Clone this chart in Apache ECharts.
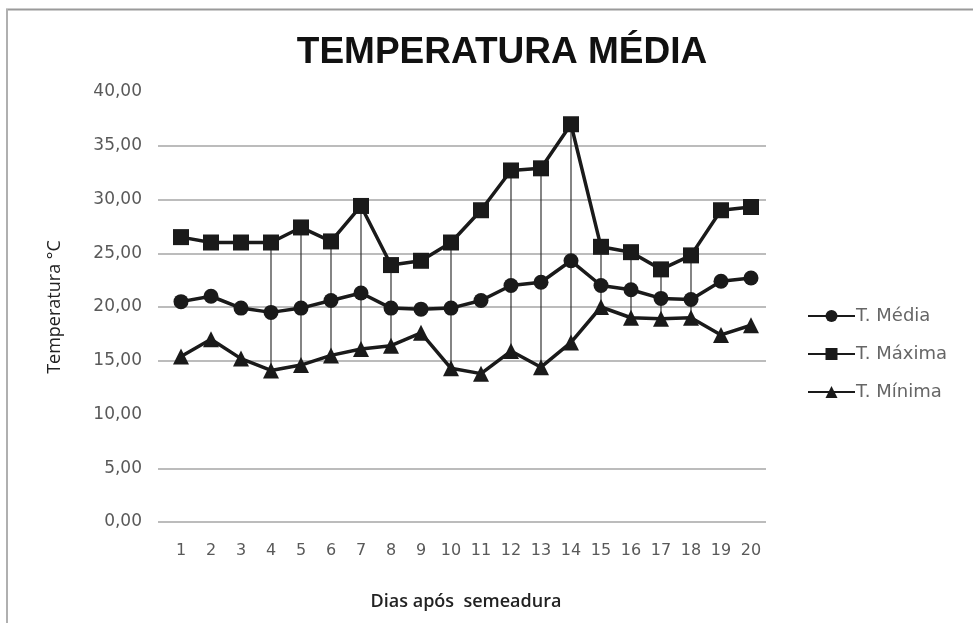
<!DOCTYPE html>
<html>
<head>
<meta charset="utf-8">
<script src="https://cdn.jsdelivr.net/npm/echarts@6/dist/echarts.min.js"></script>
<style>
html,body{margin:0;padding:0;background:#fff;}
#chart{width:973px;height:623px;}
</style>
</head>
<body>
<div id="chart"></div>
<script>
const days = ['1','2','3','4','5','6','7','8','9','10','11','12','13','14','15','16','17','18','19','20'];
const tMedia  = [20.5, 21.0, 19.9, 19.5, 19.9, 20.6, 21.3, 19.9, 19.8, 19.9, 20.6, 22.0, 22.3, 24.3, 22.0, 21.6, 20.8, 20.7, 22.4, 22.7];
const tMaxima = [26.5, 26.0, 26.0, 26.0, 27.4, 26.1, 29.4, 23.9, 24.3, 26.0, 29.0, 32.7, 32.9, 37.0, 25.6, 25.1, 23.5, 24.8, 29.0, 29.3];
const tMinima = [15.4, 17.0, 15.2, 14.1, 14.6, 15.5, 16.1, 16.4, 17.6, 14.3, 13.8, 15.9, 14.4, 16.7, 20.0, 19.0, 18.9, 19.0, 17.4, 18.3];
const highLowDays = ['4','5','6','7','8','10','12','13','14','15','16','17','18'];
const seriesNames = ['T. Média', 'T. Máxima', 'T. Mínima'];
const yTicks = ['0,00','5,00','10,00','15,00','20,00','25,00','30,00','35,00','40,00'];

const gridCol = '#a6a6a6';
const lineCol = '#1a1a1a';
const labelCol = '#595959';

const chart = echarts.init(document.getElementById('chart'));

const highLowData = highLowDays.map(d => {
  const i = days.indexOf(d);
  return [i, tMinima[i], tMaxima[i]];
});

chart.setOption({
  animation: false,
  backgroundColor: '#fff',
  title: {
    text: 'TEMPERATURA MÉDIA',
    left: 497, top: 29, textAlign: 'center',
    textStyle: { fontFamily: 'Liberation Sans', fontWeight: 'bold', fontSize: 37, color: '#111' }
  },
  graphic: [
    { type: 'line', shape: { x1: 6, y1: 9.5, x2: 973, y2: 9.5 }, style: { stroke: '#9a9a9a', lineWidth: 2 } },
    { type: 'line', shape: { x1: 7, y1: 9, x2: 7, y2: 623 }, style: { stroke: '#b0b0b0', lineWidth: 2 } }
  ],
  legend: {
    orient: 'vertical', left: 802, top: 302,
    itemWidth: 47, itemHeight: 15, itemGap: 20,
    data: seriesNames,
    textStyle: { fontFamily: 'DejaVu Sans', fontSize: 18, color: '#666', padding: [0,0,0,-4] }
  },
  grid: [
    { left: 158, top: 92, width: 608, height: 430 },
    { left: 166, top: 92, width: 600, height: 430 }
  ],
  xAxis: [
    { gridIndex: 0, type: 'category', data: days, show: false },
    {
      gridIndex: 1, type: 'category', data: days, boundaryGap: true,
      axisLine: { show: false },
      axisTick: { show: false },
      axisLabel: { fontFamily: 'DejaVu Sans', fontSize: 16, color: labelCol, margin: 21, interval: 0 },
      name: 'Dias após  semeadura', nameLocation: 'middle', nameGap: 71,
      nameTextStyle: { fontFamily: 'Open Sans', fontWeight: 600, fontSize: 18, color: '#222' }
    }
  ],
  yAxis: [
    {
      gridIndex: 0, type: 'value', min: 0, max: 40, interval: 5,
      axisLine: { show: false }, axisTick: { show: false }, axisLabel: { show: false },
      splitLine: { show: true, lineStyle: { width: 1.5, color: [gridCol, gridCol, 'rgba(0,0,0,0)', gridCol, gridCol, gridCol, gridCol, gridCol, 'rgba(0,0,0,0)'] } }
    },
    {
      gridIndex: 1, type: 'value', min: 0, max: 40, interval: 5,
      axisLine: { show: false }, axisTick: { show: false }, splitLine: { show: false },
      axisLabel: {
        fontFamily: 'DejaVu Sans', fontSize: 17, color: labelCol, margin: 24,
        formatter: (v) => yTicks[Math.round(v / 5)]
      },
      name: 'Temperatura °C', nameLocation: 'middle', nameGap: 102, nameRotate: 90,
      nameTextStyle: { fontFamily: 'Open Sans', fontSize: 18, color: '#222' }
    }
  ],
  series: [
    {
      type: 'custom', xAxisIndex: 1, yAxisIndex: 1, silent: true, z: 1,
      data: highLowData,
      renderItem: function (params, api) {
        const lo = api.coord([api.value(0), api.value(1)]);
        const hi = api.coord([api.value(0), api.value(2)]);
        return { type: 'line', shape: { x1: lo[0], y1: lo[1], x2: hi[0], y2: hi[1] }, style: { stroke: '#333', lineWidth: 1.2 } };
      }
    },
    {
      name: seriesNames[0], type: 'line', xAxisIndex: 1, yAxisIndex: 1, data: tMedia, z: 3,
      symbol: 'circle', symbolSize: 15,
      lineStyle: { color: lineCol, width: 3.5 }, itemStyle: { color: lineCol }
    },
    {
      name: seriesNames[1], type: 'line', xAxisIndex: 1, yAxisIndex: 1, data: tMaxima, z: 3,
      symbol: 'rect', symbolSize: 16,
      lineStyle: { color: lineCol, width: 3.5 }, itemStyle: { color: lineCol }
    },
    {
      name: seriesNames[2], type: 'line', xAxisIndex: 1, yAxisIndex: 1, data: tMinima, z: 3,
      symbol: 'triangle', symbolSize: 16,
      lineStyle: { color: lineCol, width: 3.5 }, itemStyle: { color: lineCol }
    }
  ]
});
</script>
</body>
</html>
